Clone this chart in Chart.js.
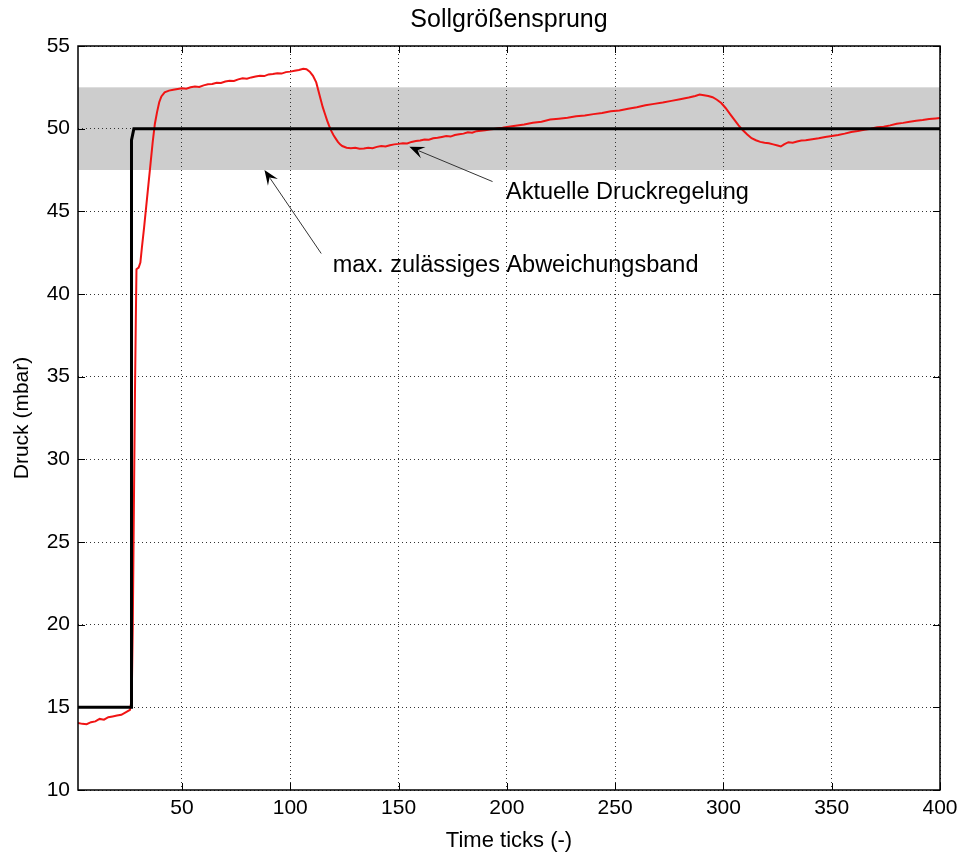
<!DOCTYPE html>
<html>
<head>
<meta charset="utf-8">
<script src="https://cdn.jsdelivr.net/npm/chart.js@4.4.1/dist/chart.umd.min.js"></script>
<style>
  html, body { margin: 0; padding: 0; background: #ffffff; }
  #wrap { width: 964px; height: 856px; }
</style>
</head>
<body>
<div id="wrap"><canvas id="c" width="964" height="856"></canvas></div>
<script>
// Time axis ticks and pressure axis ticks
const xTicks = [50, 100, 150, 200, 250, 300, 350, 400];
const yTicks = [10, 15, 20, 25, 30, 35, 40, 45, 50, 55];

// Setpoint step (Sollwert)
const setX = [2, 26.7, 26.7, 27.8, 400];
const setY = [15, 15, 49.3, 50, 50];

// Tolerance band limits
const bandX = [2, 400];
const bandLow = [47.5, 47.5];
const bandHigh = [52.5, 52.5];

// Measured pressure (Istwert)
const redX = [
  2, 4, 6, 8, 10, 12, 14, 16, 18, 20, 22, 24, 26,
  26.8, 27.3, 27.8, 28.3, 28.7, 29, 30, 30.8, 31.5, 32.5, 33.5, 34.5, 35.5, 36.5, 37.5, 38.5, 39.5, 40.5,
  42, 44, 46, 48, 50, 52, 54, 56, 58, 60, 62, 64, 66, 68, 70, 72, 74, 76, 78, 80,
  82, 84, 86, 88, 90, 92, 94, 96, 98, 100, 102, 104, 106, 107.5, 109, 110.5,
  112, 113, 114, 115, 116, 117, 118, 119, 120, 121, 122, 123, 124,
  126, 128, 130, 132, 134, 136, 138, 140, 142, 144, 146, 148, 150,
  152, 154, 156, 158, 160, 162, 164, 166, 168, 170, 172, 174, 176, 178, 180,
  182, 184, 186, 188, 190, 192, 194, 196, 198, 200,
  204, 208, 212, 216, 220, 224, 228, 232, 236, 240, 244, 248, 252, 256, 260,
  264, 268, 272, 276, 280, 284, 287, 289, 291, 293, 295, 297, 299, 301, 303,
  305, 307, 309, 311, 313, 315, 317, 319, 321, 323, 325, 326.5, 328, 330, 332,
  334, 336, 338, 341, 344, 347, 350, 353, 356, 359, 362, 365, 368, 371, 374,
  377, 380, 383, 386, 389, 392, 395, 398, 400
];
const redY = [
  14.05, 14.0, 13.98, 14.1, 14.15, 14.3, 14.25, 14.4, 14.45, 14.5, 14.55, 14.7, 14.85,
  15.5, 20, 27, 34, 38.5, 41.5, 41.6, 41.9, 42.8, 44, 45.3, 46.6, 47.9, 49.2, 50.3, 51.0, 51.6, 51.95,
  52.2, 52.3, 52.35, 52.4, 52.45, 52.42, 52.5, 52.55, 52.52, 52.62, 52.68, 52.7, 52.78, 52.76, 52.85, 52.9, 52.88, 52.98, 53.05, 53.02,
  53.1, 53.15, 53.2, 53.18, 53.28, 53.3, 53.35, 53.33, 53.42, 53.45, 53.5, 53.55, 53.62, 53.6, 53.45, 53.2,
  52.8, 52.3, 51.8, 51.3, 50.9, 50.5, 50.15, 49.85, 49.6, 49.4, 49.2, 49.05, 48.95,
  48.85, 48.82, 48.85, 48.78, 48.8, 48.85, 48.82, 48.9, 48.95, 48.92, 49.0, 49.05, 49.08,
  49.12, 49.1, 49.2, 49.25, 49.28, 49.35, 49.33, 49.42, 49.45, 49.5, 49.55, 49.52, 49.62, 49.66, 49.7,
  49.78, 49.76, 49.85, 49.88, 49.9, 49.95, 49.98, 50.02, 50.05, 50.1,
  50.18, 50.25, 50.36, 50.42, 50.55, 50.6, 50.66, 50.75, 50.8, 50.88, 50.95, 51.05, 51.1, 51.2, 51.3,
  51.42, 51.5, 51.58, 51.68, 51.78, 51.88, 51.98, 52.06, 52.02, 51.98, 51.9, 51.75, 51.55, 51.25, 50.9,
  50.55, 50.2, 49.9, 49.65, 49.42, 49.3, 49.2, 49.15, 49.12, 49.05, 48.98, 48.92, 49.05, 49.18, 49.15,
  49.22, 49.28, 49.3, 49.36, 49.42, 49.5, 49.55, 49.62, 49.7, 49.8, 49.86, 49.93, 50.0, 50.08, 50.12,
  50.2, 50.3, 50.35, 50.42, 50.48, 50.52, 50.58, 50.62, 50.65
];

// Text annotations with arrows (data coordinates)
const notes = [
  { text: 'Aktuelle Druckregelung', tx: 199.6, ty: 46.15, fromX: 193.4, fromY: 46.8, toX: 155, toY: 48.9 },
  { text: 'max. zulässiges Abweichungsband', tx: 119.6, ty: 41.75, fromX: 114.3, fromY: 42.45, toX: 88.1, toY: 47.5 }
];

const axisFont = { family: "'Liberation Sans', Arial, sans-serif", size: 21 };
const axisTitleFont = { family: "'Liberation Sans', Arial, sans-serif", size: 22 };
const noteFont = "23.5px 'Liberation Sans', Arial, sans-serif";

const pts = (xs, ys) => xs.map((x, i) => ({ x: x, y: ys[i] }));

// Shaded tolerance band, drawn before the grid so the dotted grid stays visible on top
const bandPlugin = {
  id: 'band',
  beforeDraw(chart) {
    const { ctx, scales: { x, y } } = chart;
    ctx.save();
    ctx.fillStyle = '#cdcdcd';
    const x0 = x.getPixelForValue(bandX[0]);
    const x1 = x.getPixelForValue(bandX[bandX.length - 1]);
    const y0 = y.getPixelForValue(bandHigh[0]);
    const y1 = y.getPixelForValue(bandLow[0]);
    ctx.fillRect(x0, y0, x1 - x0, y1 - y0);
    ctx.restore();
  }
};

// Frame, inward tick marks, title and arrow annotations
const framePlugin = {
  id: 'frame',
  afterDraw(chart) {
    const { ctx, chartArea: a, scales: { x, y } } = chart;
    ctx.save();
    ctx.strokeStyle = '#000';
    ctx.lineWidth = 1;
    ctx.beginPath();
    xTicks.forEach(v => {
      const px = Math.round(x.getPixelForValue(v)) + 0.5;
      ctx.moveTo(px, a.bottom); ctx.lineTo(px, a.bottom - 7);
      ctx.moveTo(px, a.top); ctx.lineTo(px, a.top + 7);
    });
    yTicks.forEach(v => {
      const py = Math.round(y.getPixelForValue(v)) + 0.5;
      ctx.moveTo(a.left, py); ctx.lineTo(a.left + 7, py);
      ctx.moveTo(a.right, py); ctx.lineTo(a.right - 7, py);
    });
    ctx.stroke();
    ctx.lineWidth = 1.5;
    ctx.strokeRect(a.left, a.top, a.right - a.left, a.bottom - a.top);

    // title
    ctx.fillStyle = '#000';
    ctx.font = "25px 'Liberation Sans', Arial, sans-serif";
    ctx.textAlign = 'center';
    ctx.textBaseline = 'middle';
    ctx.fillText('Sollgrößensprung', (a.left + a.right) / 2, 20);

    // annotations
    notes.forEach(n => {
      const fx = x.getPixelForValue(n.fromX), fy = y.getPixelForValue(n.fromY);
      const tx = x.getPixelForValue(n.toX), ty = y.getPixelForValue(n.toY);
      const ang = Math.atan2(ty - fy, tx - fx);
      ctx.strokeStyle = '#333';
      ctx.lineWidth = 1;
      ctx.beginPath();
      ctx.moveTo(fx, fy);
      ctx.lineTo(tx - 10 * Math.cos(ang), ty - 10 * Math.sin(ang));
      ctx.stroke();
      const L = 15, W = 6;
      ctx.fillStyle = '#000';
      ctx.beginPath();
      ctx.moveTo(tx, ty);
      ctx.lineTo(tx - L * Math.cos(ang) + W * Math.sin(ang), ty - L * Math.sin(ang) - W * Math.cos(ang));
      ctx.lineTo(tx - 0.6 * L * Math.cos(ang), ty - 0.6 * L * Math.sin(ang));
      ctx.lineTo(tx - L * Math.cos(ang) - W * Math.sin(ang), ty - L * Math.sin(ang) + W * Math.cos(ang));
      ctx.closePath();
      ctx.fill();
      ctx.font = noteFont;
      ctx.textAlign = 'left';
      ctx.textBaseline = 'middle';
      ctx.fillStyle = '#000';
      ctx.fillText(n.text, x.getPixelForValue(n.tx), y.getPixelForValue(n.ty));
    });
    ctx.restore();
  }
};

new Chart(document.getElementById('c'), {
  type: 'line',
  data: {
    datasets: [
      {
        label: 'Istwert',
        data: pts(redX, redY),
        borderColor: '#f01414',
        borderWidth: 2,
        pointRadius: 0,
        tension: 0,
        order: 2
      },
      {
        label: 'Sollwert',
        data: pts(setX, setY),
        borderColor: '#000000',
        borderWidth: 3,
        pointRadius: 0,
        tension: 0,
        order: 1
      }
    ]
  },
  options: {
    responsive: false,
    animation: false,
    layout: { padding: { left: 0, right: 24, top: 46, bottom: 0 } },
    plugins: {
      legend: { display: false },
      tooltip: { enabled: false },
      title: { display: false }
    },
    scales: {
      x: {
        type: 'linear',
        min: 2,
        max: 400,
        afterBuildTicks: s => { s.ticks = xTicks.map(v => ({ value: v })); },
        afterFit: s => { s.height = 66; },
        grid: { color: '#333', lineWidth: 1, drawTicks: false },
        border: { display: false, dash: [1, 3] },
        ticks: { color: '#000', font: axisFont, padding: 6, maxRotation: 0 },
        title: { display: true, text: 'Time ticks (-)', color: '#000', font: axisTitleFont, padding: { top: 0, bottom: 2 } }
      },
      y: {
        type: 'linear',
        min: 10,
        max: 55,
        afterBuildTicks: s => { s.ticks = yTicks.map(v => ({ value: v })); },
        afterFit: s => { s.width = 78; },
        grid: { color: '#333', lineWidth: 1, drawTicks: false },
        border: { display: false, dash: [1, 3] },
        ticks: { color: '#000', font: axisFont, padding: 8 },
        title: { display: true, text: 'Druck (mbar)', color: '#000', font: axisFont, padding: { top: 10, bottom: 0 } }
      }
    }
  },
  plugins: [bandPlugin, framePlugin]
});
</script>
</body>
</html>
